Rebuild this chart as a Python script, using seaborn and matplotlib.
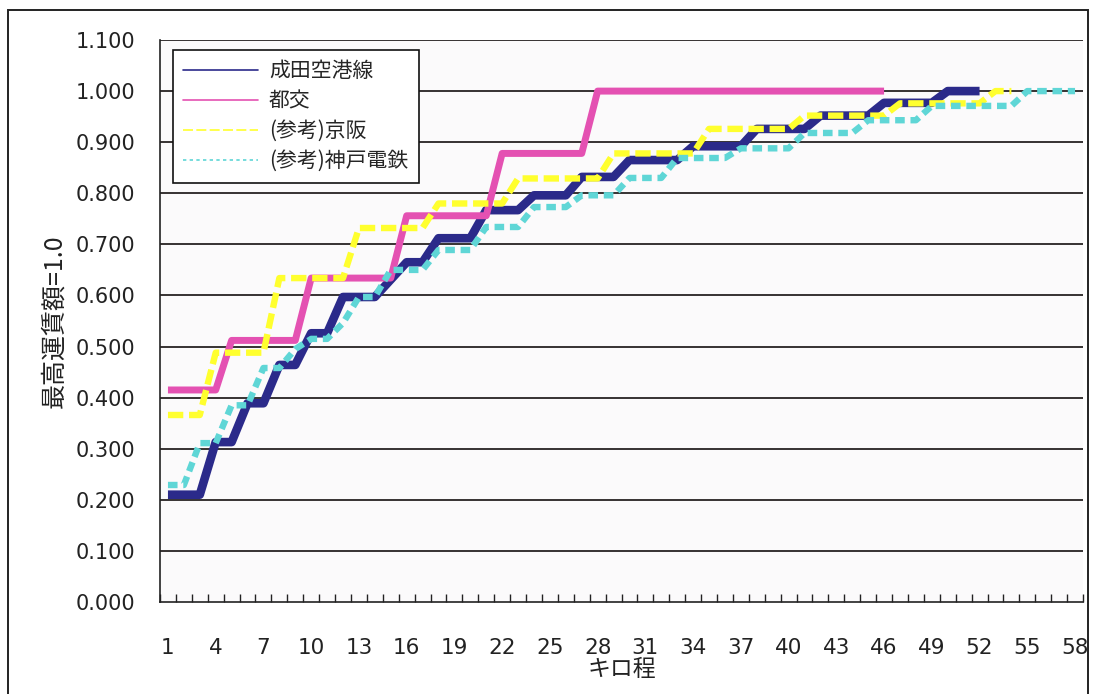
import matplotlib
matplotlib.use("Agg")
import matplotlib.pyplot as plt
from matplotlib.lines import Line2D
from matplotlib.patches import Rectangle
from matplotlib.ticker import FixedLocator, FormatStrFormatter
import numpy as np
import pandas as pd
import seaborn as sns

# distance in km (categories 1..58)
km = list(range(1, 59))

# fares relative to each line's maximum fare (=1.0)
narita = ([0.210] * 3 + [0.313] * 2 + [0.389] * 2 + [0.464] * 2 + [0.526] * 2 +
          [0.597] * 3 + [0.631] + [0.665] * 2 + [0.712] * 3 + [0.767] * 3 +
          [0.796] * 3 + [0.832] * 3 + [0.865] * 4 + [0.892] * 4 + [0.926] * 4 +
          [0.952] * 4 + [0.977] * 4 + [1.000] * 3)
toei = ([0.415] * 4 + [0.512] * 5 + [0.634] * 6 + [0.756] * 6 + [0.878] * 6 +
        [1.000] * 19)
keihan = ([0.366] * 3 + [0.488] * 4 + [0.634] * 5 + [0.732] * 5 + [0.780] * 5 +
          [0.829] * 6 + [0.878] * 6 + [0.926] * 6 + [0.952] * 6 + [0.976] * 6 +
          [1.000] * 2)
kobe = ([0.229] * 2 + [0.311] * 2 + [0.385] * 2 + [0.458] * 2 + [0.495] +
        [0.515] * 2 + [0.546] + [0.597] * 2 + [0.650] * 3 + [0.689] * 3 +
        [0.734] * 3 + [0.773] * 3 + [0.796] * 3 + [0.830] * 3 + [0.869] * 4 +
        [0.888] * 4 + [0.918] * 4 + [0.943] * 4 + [0.971] * 6 + [1.000] * 4)

series_names = ["成田空港線", "都交", "(参考)京阪", "(参考)神戸電鉄"]
series_values = [narita, toei, keihan, kobe]
colors = ["#2b2a8a", "#e451b2", "#ffff2e", "#5fd6d6"]

y_ticks = [round(0.1 * i, 1) for i in range(12)]
x_labels = list(range(1, 59, 3))

frames = []
for name, vals in zip(series_names, series_values):
    frames.append(pd.DataFrame({"km": km[:len(vals)], "fare": vals, "line": name}))
df = pd.concat(frames, ignore_index=True)

sns.set_theme(style="white")
plt.rcParams["font.family"] = ["Noto Sans CJK JP", "DejaVu Sans"]

fig = plt.figure(figsize=(10.95, 6.94), dpi=100)
ax = fig.add_axes([160 / 1095, 1 - 602 / 694, 923 / 1095, 562 / 694])
ax.set_facecolor("#fbfafb")

palette = dict(zip(series_names, colors))
widths = dict(zip(series_names, [6.2, 5.0, 4.6, 4.6]))
dash_styles = dict(zip(series_names, ["", "", (2.4, 0.9), (1.5, 0.9)]))

sns.lineplot(data=df, x="km", y="fare", hue="line", hue_order=series_names,
             style="line", style_order=series_names, dashes=dash_styles,
             size="line", size_order=series_names, sizes=widths,
             palette=palette, estimator=None, legend=False, ax=ax, zorder=3)

for ln in ax.get_lines():
    ln.set_solid_joinstyle("round")
    ln.set_solid_capstyle("butt")
    ln.set_dash_joinstyle("round")

# horizontal grid
for yv in y_ticks[1:]:
    ax.axhline(yv, color="#151010", lw=1.2, zorder=1)

ax.set_xlim(0.5, 58.5)
ax.set_ylim(0, 1.1)

tick_font = ["DejaVu Sans"]
ax.yaxis.set_major_locator(FixedLocator(y_ticks))
ax.yaxis.set_major_formatter(FormatStrFormatter("%.3f"))
ax.tick_params(axis="y", which="major", direction="out", length=4, width=1,
               color="#222222", pad=14, labelsize=15, labelcolor="#222222")
for lab in ax.get_yticklabels():
    lab.set_family(tick_font)

ax.set_xticks(x_labels)
ax.set_xticklabels([str(v) for v in x_labels], family=tick_font)
ax.set_xticks(np.arange(0.5, 59.0, 1.0), minor=True)
ax.tick_params(axis="x", which="major", length=0, pad=26, labelsize=15.5,
               labelcolor="#222222")
ax.tick_params(axis="x", which="minor", direction="in", length=6, width=1,
               color="#222222", bottom=True)

for side in ["top", "right"]:
    ax.spines[side].set_visible(False)
ax.spines["left"].set_color("#222222")
ax.spines["bottom"].set_color("#222222")
ax.spines["left"].set_linewidth(1.2)
ax.spines["bottom"].set_linewidth(1.2)

ax.set_xlabel("キロ程", fontsize=16.5, color="#222222", labelpad=0)
ax.set_ylabel("最高運賃額=1.0", fontsize=18, color="#222222", labelpad=6)

# legend with thin sample lines
handles = [
    Line2D([], [], color=colors[0], lw=1.2),
    Line2D([], [], color=colors[1], lw=1.2),
    Line2D([], [], color=colors[2], lw=1.2, dashes=(6, 2)),
    Line2D([], [], color=colors[3], lw=1.2, dashes=(2, 2)),
]
leg = ax.legend(handles, series_names, loc="upper left",
                bbox_to_anchor=((173 - 160) / 923, 1 - (50 - 40) / 562),
                borderaxespad=0, frameon=True, fancybox=False,
                fontsize=15, handlelength=3.6, handletextpad=0.5,
                labelspacing=0.38, borderpad=0.5)
leg.get_frame().set_edgecolor("#111111")
leg.get_frame().set_linewidth(1.2)
leg.get_frame().set_facecolor("white")
leg.get_frame().set_alpha(1)
leg.set_zorder(5)

# chart border
fig.patches.append(Rectangle((8 / 1095, -0.02), 1080 / 1095, 1.02 - 10 / 694,
                             transform=fig.transFigure, fill=False,
                             edgecolor="#222222", lw=1.4))

fig.savefig("out.png", dpi=100, facecolor="white")
